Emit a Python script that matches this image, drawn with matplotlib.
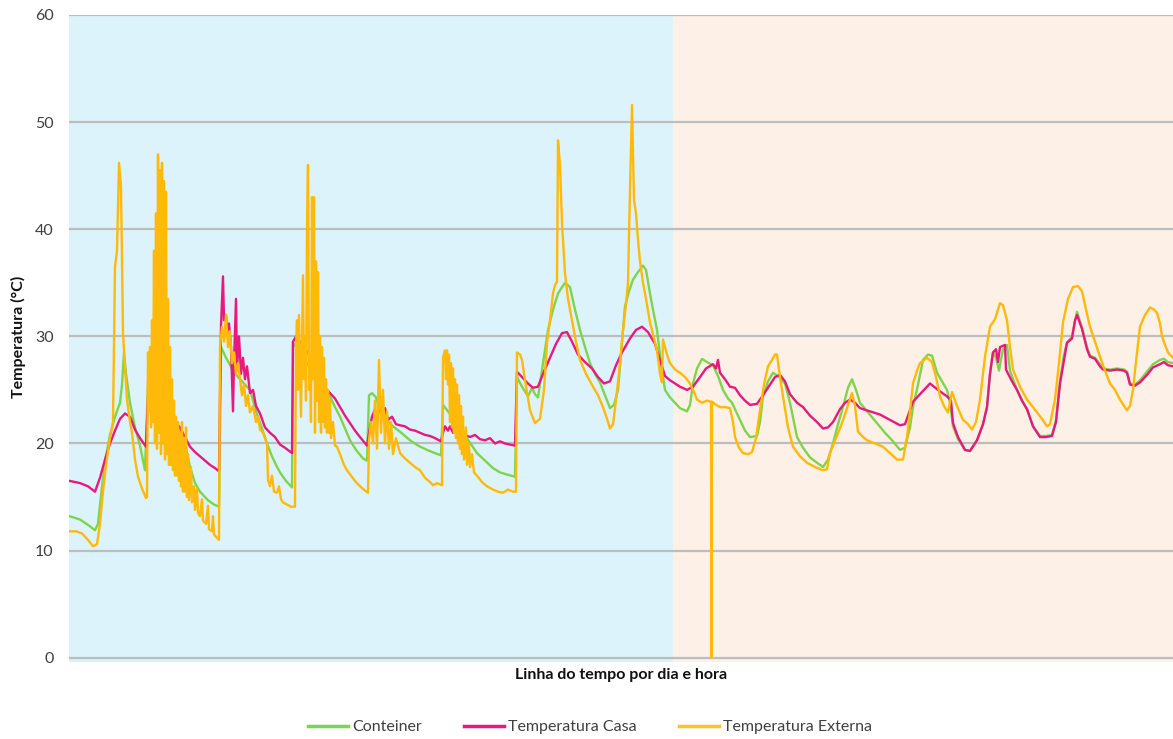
import matplotlib
matplotlib.use("Agg")
import matplotlib.pyplot as plt
from matplotlib.lines import Line2D

# ---------------- data (time index = sample number, temperature in °C) ----------------
t_casa = [0, 10, 18, 25, 30, 35, 40, 45, 50, 55, 60, 65, 70, 76, 78, 82, 90, 95, 100, 105, 110, 115, 120, 125, 130, 135, 140, 145, 149,
          151, 153, 154, 156, 157, 159, 161, 163, 164, 166, 167, 169, 171, 173, 175, 177, 180, 183, 186, 190, 195, 200, 205, 210, 215, 222,
          223, 226, 230, 235, 238, 242, 248, 255, 260, 265, 270, 275, 280, 285, 290, 297,
          299, 302, 305, 307, 309, 312, 315, 318, 322, 326, 330, 335, 340, 345, 350, 355, 360, 365, 371,
          373, 375, 378, 380, 383, 387, 390, 395, 400, 405, 410, 415, 420, 425, 430, 435, 440, 445,
          447, 452, 458, 463, 468, 473, 480, 486, 492, 497, 502, 508, 515, 522, 528, 534, 540, 546, 552, 560, 566, 572, 578, 585, 590, 595,
          600, 605, 610, 617, 623, 630, 636, 643, 646, 648, 650, 655, 660, 665, 670, 675, 680, 687, 693, 700, 705, 710, 715, 720, 727, 733,
          740, 747, 753, 758, 763, 770, 775, 780, 785, 790, 800, 810, 820, 830, 835, 843, 850, 860, 868, 877, 881, 883, 888, 895, 900, 907,
          913, 917, 920, 923, 926, 928, 930, 935, 936, 942, 947, 952, 957, 963, 970, 976, 982, 986, 990, 994, 997, 1002, 1005, 1007, 1012,
          1017, 1020, 1025, 1030, 1033, 1040, 1047, 1054, 1057, 1060, 1065, 1070, 1077, 1083, 1090, 1094, 1098, 1103]
casa = [16.5, 16.3, 16.0, 15.5, 16.8, 18.5, 20.0, 21.2, 22.3, 22.8, 22.5, 21.3, 20.5, 19.7, 24.4, 24.2, 23.4, 22.8, 22.3, 22.0, 21.5, 20.6, 19.7, 19.2, 18.8, 18.4, 18.0, 17.7, 17.4,
        31.0, 35.6, 31.5, 32.0, 30.5, 31.2, 29.0, 23.0, 27.5, 33.5, 27.0, 30.0, 26.5, 28.0, 26.0, 27.2, 24.7, 25.0, 23.5, 22.8, 21.5, 21.0, 20.6, 19.9, 19.6, 19.1,
        29.5, 30.0, 29.5, 28.8, 28.5, 27.5, 26.5, 25.2, 24.7, 24.2, 23.4, 22.6, 21.9, 21.2, 20.6, 19.8,
        21.0, 22.5, 23.2, 22.0, 23.6, 22.5, 23.3, 22.2, 22.5, 21.8, 21.7, 21.6, 21.3, 21.2, 21.0, 20.8, 20.7, 20.5, 20.2,
        21.0, 21.6, 21.2, 21.6, 21.0, 21.4, 21.2, 20.8, 20.6, 20.8, 20.4, 20.3, 20.5, 20.0, 20.2, 20.0, 19.9, 19.8,
        26.7, 26.2, 25.6, 25.2, 25.3, 26.5, 28.0, 29.3, 30.3, 30.4, 29.5, 28.3, 27.6, 27.0, 26.2, 25.6, 25.8, 27.3, 28.5, 29.8, 30.6, 30.9, 30.4, 29.3, 27.8, 26.3,
        25.9, 25.6, 25.3, 25.0, 25.3, 26.2, 27.0, 27.4, 27.0, 27.8, 26.6, 26.0, 25.3, 25.2, 24.5, 24.0, 23.6, 23.7, 24.5, 25.5, 26.2, 26.4, 25.8, 24.6, 23.8, 23.4,
        22.6, 22.0, 21.4, 21.5, 22.0, 23.2, 23.8, 24.1, 23.8, 23.3, 23.0, 22.7, 22.2, 21.7, 21.8, 23.9, 24.6, 25.6, 25.0, 24.4, 24.0, 21.9, 20.6, 19.4, 19.3, 20.3,
        21.8, 23.4, 26.5, 28.5, 28.8, 27.6, 29.0, 29.2, 26.9, 25.8, 25.0, 24.0, 23.2, 21.6, 20.6, 20.6, 20.7, 22.0, 25.6, 27.8, 29.4, 29.8, 31.5, 32.0, 30.7,
        28.8, 28.1, 27.9, 27.2, 26.9, 26.8, 26.9, 26.8, 26.6, 25.5, 25.4, 25.7, 26.4, 27.1, 27.4, 27.6, 27.3, 27.2]

t_conteiner = [0, 10, 18, 25, 28, 32, 36, 40, 45, 50, 52, 54, 56, 60, 65, 70, 75, 78, 82, 86, 90, 95, 100, 105, 110, 115, 120, 125, 130, 138, 144, 149,
               151, 156, 162, 168, 174, 180, 186, 192, 197, 202, 206, 210, 216, 222,
               223, 230, 237, 245, 252, 260, 265, 270, 275, 280, 286, 293, 297,
               299, 302, 306, 310, 315, 323, 330, 340, 348, 357, 365, 371,
               373, 378, 384, 390, 396, 402, 407, 415, 423, 430, 437, 445,
               447, 452, 458, 462, 465, 468, 473, 478, 483, 488, 492, 495, 500, 505, 510, 515, 520, 525, 530, 535, 540, 544, 548, 552, 555, 559,
               563, 568, 573, 576, 580, 584, 587, 591, 595, 600, 605, 610, 617, 620, 623, 627, 632, 637, 643, 648, 653, 658, 662, 666, 670, 675,
               680, 687, 690, 693, 698, 703, 708, 715, 720, 727, 733, 740, 747, 753, 758, 763, 768, 773, 778, 782, 786, 790, 798, 807, 815, 823,
               830, 835, 840, 843, 848, 853, 858, 862, 867, 872, 877, 880, 883, 888, 895, 900, 907, 913, 917, 920, 923, 926, 929, 933, 937, 940,
               947, 952, 957, 963, 970, 976, 982, 986, 990, 994, 997, 1002, 1007, 1012, 1017, 1020, 1025, 1030, 1033, 1040, 1047, 1054, 1057,
               1060, 1065, 1070, 1077, 1083, 1090, 1094, 1098, 1103]
conteiner = [13.2, 12.9, 12.4, 11.9, 12.5, 16.0, 18.8, 20.8, 22.5, 23.8, 25.5, 28.5, 26.5, 23.8, 21.5, 19.8, 17.5, 25.7, 25.6, 25.4, 25.0, 24.0, 23.0, 22.0, 21.2, 20.0, 17.8, 16.3, 15.5, 14.7, 14.3, 14.1,
             29.0, 28.0, 27.0, 26.2, 25.6, 25.0, 23.0, 21.4, 20.0, 18.8, 18.0, 17.3, 16.5, 15.9,
             29.4, 28.5, 27.5, 26.3, 25.3, 24.4, 23.4, 22.5, 21.4, 20.3, 19.4, 18.6, 18.4,
             24.5, 24.7, 24.3, 23.0, 22.3, 21.6, 21.1, 20.3, 19.8, 19.4, 19.1, 18.9,
             23.6, 23.0, 22.2, 21.6, 20.6, 19.8, 19.1, 18.4, 17.7, 17.3, 17.1, 16.9,
             26.2, 25.3, 24.4, 25.2, 24.6, 24.3, 27.5, 30.6, 32.5, 34.0, 34.6, 35.0, 34.6, 32.5, 30.6, 29.0, 27.5, 26.5, 25.7, 24.5, 23.3, 23.6, 25.0, 29.5, 32.8, 34.2,
             35.3, 36.0, 36.6, 36.2, 34.0, 32.0, 30.6, 27.5, 25.0, 24.3, 23.8, 23.3, 23.0, 23.6, 25.6, 27.0, 27.9, 27.6, 27.3, 26.3, 25.0, 24.2, 23.8, 23.0, 22.2, 21.2,
             20.6, 20.7, 22.0, 24.4, 25.8, 26.6, 26.3, 25.6, 23.8, 20.6, 19.6, 18.7, 18.2, 17.8, 18.5, 20.0, 21.8, 23.4, 25.2, 26.0, 25.0, 23.8, 22.9, 21.9, 21.0, 20.2,
             19.4, 19.6, 21.5, 23.4, 25.5, 27.8, 28.3, 28.2, 26.6, 25.8, 25.0, 23.8, 21.6, 20.4, 19.4, 19.3, 20.3, 21.8, 23.4, 26.5, 28.5, 28.0, 26.8, 28.8, 29.2, 26.8,
             25.0, 24.0, 23.2, 21.6, 20.7, 20.7, 20.8, 22.2, 25.8, 28.3, 29.4, 30.0, 32.3, 30.8, 29.0, 28.2, 28.0, 27.4, 27.0, 26.9, 27.0, 26.9, 26.7,
             25.6, 25.5, 25.9, 26.7, 27.4, 27.8, 27.9, 27.6, 27.5]

t_externa = [0, 6, 12, 18, 23, 27, 30, 33, 36, 40, 43, 45, 47, 49, 51, 53, 55, 57, 60, 62, 65, 68, 72, 76, 77,
             78, 79, 80, 81, 82, 83, 84, 85, 86, 87, 88, 89, 90, 91, 92, 93, 94, 95, 96, 97, 98, 99, 100, 101, 102, 103, 104, 105, 106, 107,
             108, 109, 110, 111, 112, 113, 114, 115, 116, 117, 118, 119, 121, 122, 124, 125, 127, 128, 130, 132, 133, 136, 138, 139, 142, 143,
             144, 147, 149,
             150, 152, 154, 156, 158, 160, 162, 164, 166, 168, 170, 172, 174, 176, 178, 180, 183, 186, 188, 190, 193, 197, 198, 200, 202, 204,
             207, 209, 211, 213, 217, 221, 225,
             226, 227, 228, 229, 230, 231, 232, 233, 234, 235, 236, 237, 238, 239, 240, 241, 242, 243, 244, 245, 246, 247, 248, 249, 250, 251,
             252, 253, 254, 255, 256, 257, 258, 259, 260, 261, 263, 265, 267, 270, 274, 277, 281, 285, 290, 295, 298,
             299, 301, 303, 305, 307, 309, 311, 313, 315, 317, 319, 321, 323, 326, 330, 335, 340, 345, 350, 355, 360, 363, 367, 372,
             373, 375, 376, 377, 378, 379, 380, 381, 382, 383, 384, 385, 386, 387, 388, 389, 390, 391, 392, 393, 394, 396, 397, 399, 400, 402,
             404, 407, 412, 417, 423, 428, 433, 438, 443, 446,
             447, 450, 452, 455, 460, 465, 470, 474, 477, 480, 483, 485, 487, 488, 490, 492, 495, 498, 502, 506, 510, 516, 523, 528, 533, 537,
             540, 543, 546, 550, 553, 556, 558, 560, 562, 564, 566, 568, 570, 573, 576, 580, 584, 587, 590, 592, 593, 595, 597, 600, 605, 610,
             615, 620, 624, 627, 632, 637, 641, 641.5, 642, 646, 650, 655, 660, 663, 665, 669, 673, 678, 682, 686, 690, 694, 698, 702, 705,
             707, 710, 713, 718, 723, 730, 737, 745, 753, 757, 760, 766, 772, 777, 782, 785, 788, 792, 797, 805, 813, 820, 827, 833, 837, 840,
             843, 847, 850, 857, 862, 866, 870, 874, 878, 882, 887, 893, 898, 902, 906, 910, 913, 915, 920, 925, 930, 933, 937, 940, 943, 950,
             957, 962, 967, 972, 977, 980, 985, 989, 993, 998, 1003, 1008, 1012, 1016, 1020, 1025, 1030, 1035, 1040, 1045, 1050, 1054, 1057,
             1060, 1063, 1067, 1070, 1075, 1080, 1084, 1087, 1090, 1092, 1095, 1098, 1103]
externa = [11.8, 11.8, 11.6, 11.0, 10.4, 10.6, 12.5, 15.5, 18.0, 20.5, 22.0, 36.5, 38.0, 46.2, 44.0, 30.3, 27.0, 24.1, 22.0, 21.0, 18.5, 16.9, 15.8, 14.9, 15.0,
           28.5, 23.0, 29.0, 21.5, 31.5, 22.0, 38.0, 20.0, 41.5, 19.5, 47.0, 21.0, 45.5, 19.0, 46.2, 20.0, 44.5, 18.5, 43.5, 19.0, 33.5, 18.0, 29.0, 18.0, 26.0, 17.5, 24.0, 17.0, 22.5, 17.0,
           22.0, 16.5, 21.0, 16.0, 22.0, 15.5, 20.5, 15.5, 21.5, 15.0, 19.0, 14.7, 17.8, 14.5, 16.0, 13.8, 15.8, 13.5, 13.2, 14.8, 12.8, 12.5, 14.2, 12.0, 11.8, 13.2,
           11.5, 11.2, 11.0,
           29.0, 30.9, 29.5, 32.0, 29.0, 30.5, 27.5, 28.5, 26.5, 27.5, 26.0, 24.5, 25.5, 23.5, 24.5, 22.9, 23.5, 22.0, 22.5, 21.3, 21.0, 20.0, 16.6, 16.0, 17.0, 15.5,
           15.4, 16.0, 14.8, 14.5, 14.3, 14.1, 14.1,
           29.0, 31.5, 25.0, 32.0, 27.0, 22.5, 29.0, 35.7, 26.0, 30.0, 24.0, 40.0, 46.0, 25.0, 28.0, 22.0, 43.0, 26.0, 43.0, 21.0, 37.0, 24.0, 36.0, 22.0, 30.0, 21.0,
           29.0, 22.0, 28.0, 21.5, 26.0, 21.0, 25.0, 21.0, 24.0, 20.5, 22.0, 19.8, 19.7, 19.0, 18.0, 17.5, 17.0, 16.5, 16.0, 15.6, 15.4,
           20.3, 22.0, 20.0, 24.0, 19.5, 27.8, 21.0, 25.0, 20.0, 23.0, 19.5, 22.0, 19.0, 20.5, 19.1, 18.6, 18.2, 17.8, 17.5, 16.8, 16.4, 16.1, 16.3, 16.1,
           28.0, 28.7, 26.0, 28.7, 25.5, 28.3, 22.0, 27.5, 21.5, 27.0, 21.0, 26.0, 20.5, 25.5, 20.0, 24.5, 19.5, 23.5, 19.0, 22.5, 18.5, 21.5, 18.0, 20.0, 17.8, 19.0,
           17.3, 17.0, 16.4, 16.0, 15.7, 15.5, 15.4, 15.7, 15.5, 15.5,
           28.5, 28.3, 27.8, 25.9, 23.1, 21.9, 22.3, 25.0, 29.4, 31.5, 34.0, 34.8, 35.1, 48.3, 46.0, 40.6, 35.9, 33.5, 31.5, 29.5, 27.8, 26.5, 25.3, 24.5, 23.4, 22.3,
           21.4, 21.8, 24.0, 27.5, 30.6, 33.0, 35.0, 43.7, 51.6, 42.7, 41.5, 39.0, 37.0, 35.0, 33.5, 31.3, 29.8, 28.7, 26.5, 25.7, 29.7, 29.0, 28.3, 27.5, 26.9, 26.6,
           26.2, 25.6, 24.8, 24.1, 23.8, 24.0, 23.9, 0.0, 23.9, 23.6, 23.4, 23.4, 23.3, 22.0, 20.6, 19.6, 19.1, 19.0, 19.2, 20.5, 23.1, 25.5, 27.2, 27.8, 28.3,
           28.3, 26.2, 24.4, 21.5, 19.7, 18.8, 18.2, 17.8, 17.5, 17.6, 19.1, 20.5, 21.9, 23.3, 24.7, 23.5, 21.1, 20.7, 20.3, 20.0, 19.7, 19.1, 18.5, 18.5, 20.6, 23.0,
           25.6, 26.8, 27.5, 28.0, 27.6, 26.2, 24.4, 23.5, 22.9, 24.8, 23.5, 22.2, 21.8, 21.3, 22.0, 24.1, 26.5, 28.1, 30.9, 31.6, 33.1, 32.9, 31.5, 29.0, 26.9, 25.3,
           24.1, 23.5, 22.9, 22.3, 21.6, 21.8, 24.1, 27.5, 31.3, 33.5, 34.6, 34.7, 34.2, 32.5, 30.9, 29.5, 28.1, 26.8, 25.6, 25.0, 24.1, 23.5, 23.1,
           23.5, 25.0, 28.5, 30.9, 32.0, 32.7, 32.5, 32.2, 31.2, 30.0, 29.2, 28.5, 28.0]

# shaded periods (start, end) in sample index
period_blue = (-1, 603)
period_peach = (603, 1103)

series_names = ["Conteiner", "Temperatura Casa", "Temperatura Externa"]
y_ticks = [0, 10, 20, 30, 40, 50, 60]

# ---------------- style ----------------
C_GREEN = "#7FD44C"
C_PINK = "#E8197E"
C_ORANGE = "#FFB909"
FONT = ["Lato", "DejaVu Sans"]
plt.rcParams["font.family"] = FONT

fig = plt.figure(figsize=(11.73, 7.39), dpi=100)
ax = fig.add_axes([69 / 1173, 1 - 662 / 739, 1 - 69 / 1173, (662 - 15) / 739])

ax.axvspan(*period_blue, color="#DDF3FC", zorder=0, lw=0)
ax.axvspan(*period_peach, color="#FDF0E7", zorder=0, lw=0)

ax.set_xlim(-1, 1103)
ax.set_ylim(-0.4, 60)
ax.set_yticks(y_ticks)
ax.set_xticks([])
ax.grid(axis="y", color="#BDBDBD", lw=1.6, zorder=0.5)
ax.set_axisbelow(True)
for s in ax.spines.values():
    s.set_visible(False)
ax.tick_params(axis="y", length=0, pad=11, labelsize=11.5, labelcolor="#404040")

lw = 1.7
ax.plot(t_conteiner, conteiner, color=C_GREEN, lw=lw, zorder=2, solid_joinstyle="round")
ax.plot(t_casa, casa, color=C_PINK, lw=lw, zorder=3, solid_joinstyle="round")
ax.plot(t_externa, externa, color=C_ORANGE, lw=lw, zorder=4, solid_joinstyle="round")

fig.text(18 / 1173, 1 - 337 / 739, "Temperatura (°C)", rotation=90, ha="center", va="center",
         fontsize=11.5, fontweight="bold", color="#111111")
fig.text(621 / 1173, 1 - 675 / 739, "Linha do tempo por dia e hora", ha="center", va="center",
         fontsize=11.5, fontweight="bold", color="#111111")

handles = [Line2D([], [], color=c, lw=2.5) for c in (C_GREEN, C_PINK, "#FFC326")]
fig.legend(handles, series_names, loc="center", bbox_to_anchor=(590 / 1173, 1 - 727 / 739), ncol=3,
           frameon=False, fontsize=11.5, handlelength=2.5, handletextpad=0.3, columnspacing=2.6,
           labelcolor="#404040")

fig.savefig("out.png", dpi=100)
